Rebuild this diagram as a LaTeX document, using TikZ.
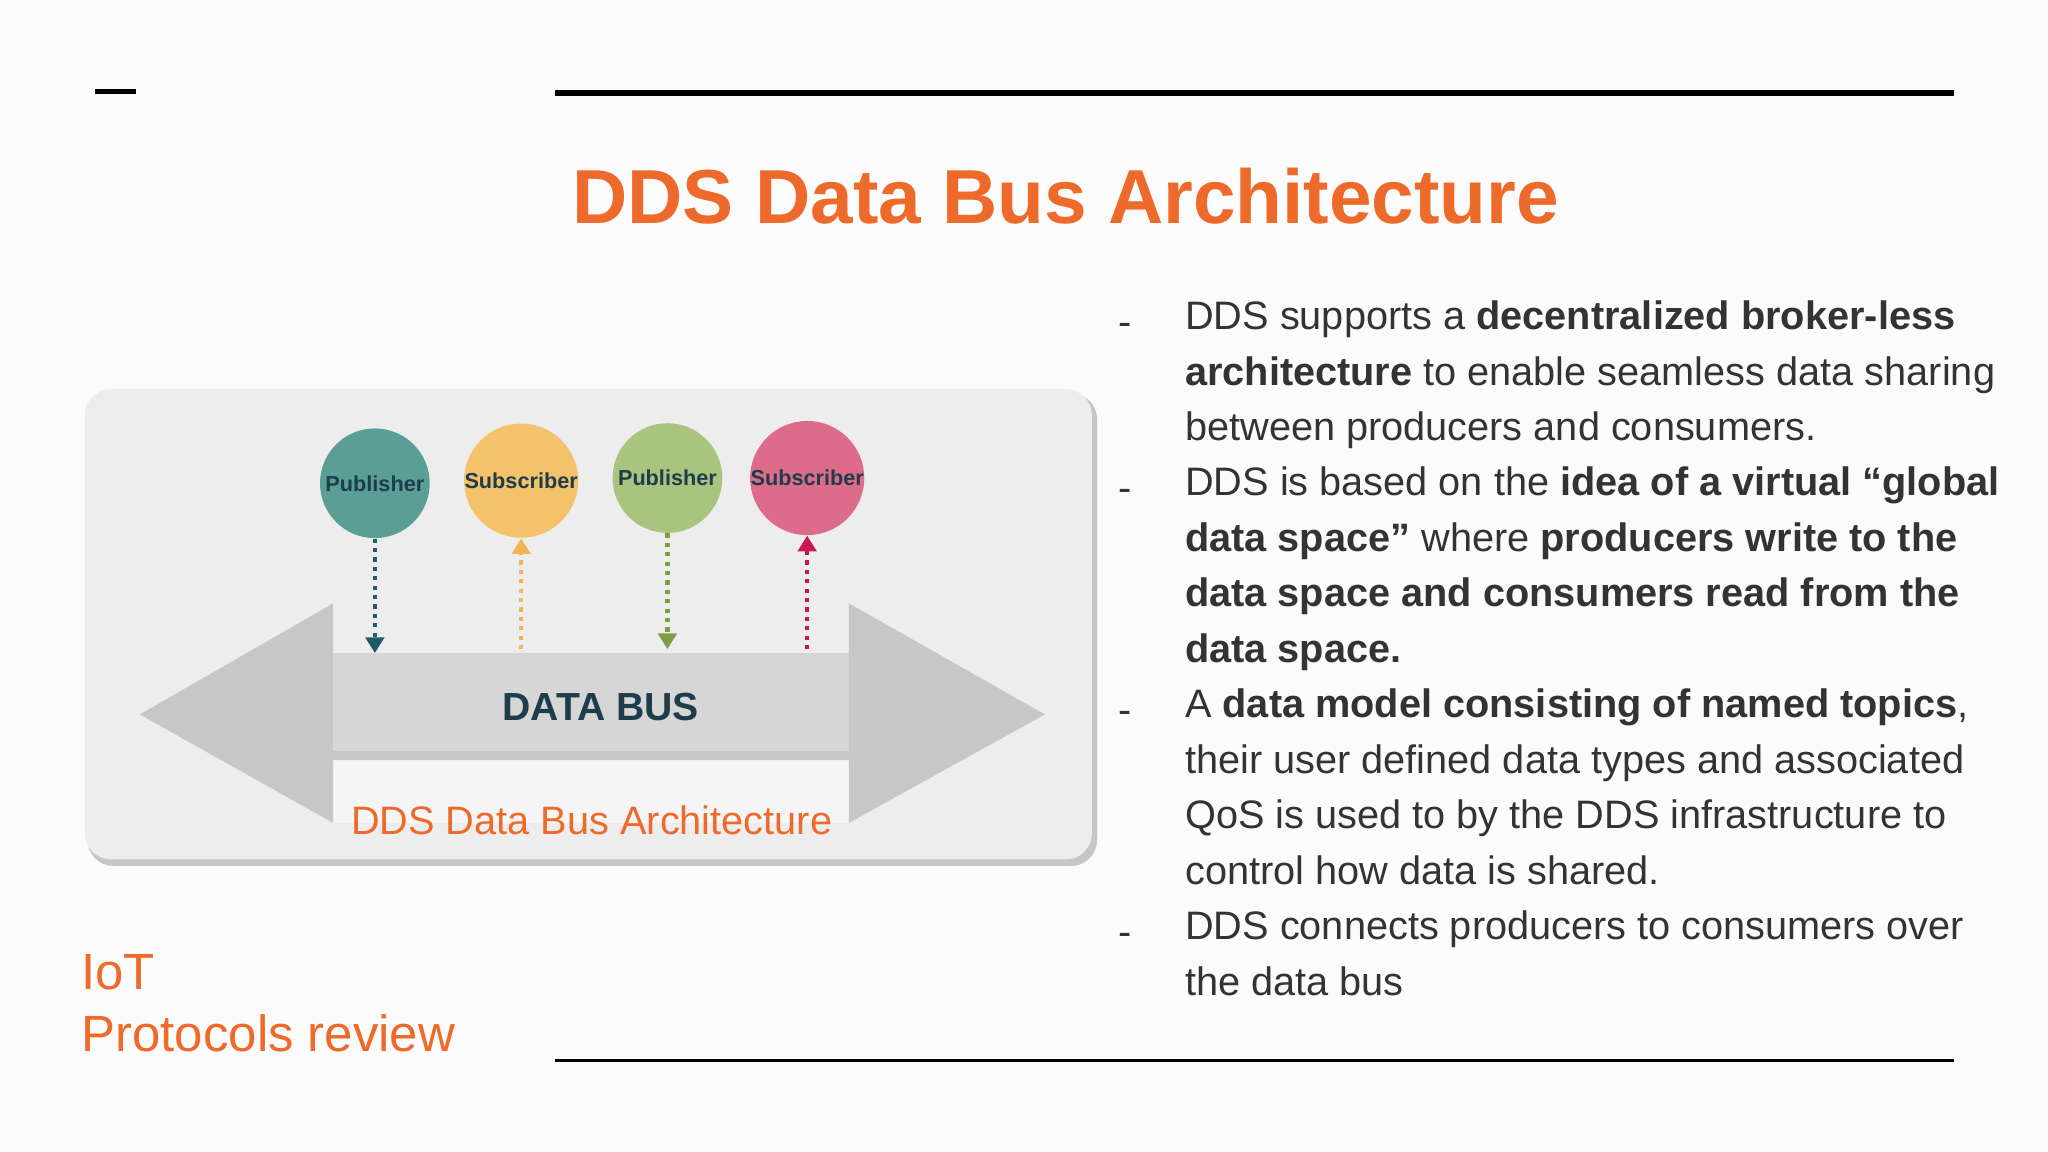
\documentclass[tikz,border=0pt]{standalone}
\usepackage{fontspec}
\setmainfont{Liberation Sans}
\usetikzlibrary{arrows.meta,shadows}
\definecolor{orng}{HTML}{EE6A2A}
\definecolor{txt}{HTML}{333333}
\definecolor{dk}{HTML}{1D3D4A}
\definecolor{cteal}{HTML}{5B9E96}
\definecolor{cyel}{HTML}{F3C26B}
\definecolor{cgrn}{HTML}{A9C47F}
\definecolor{cpink}{HTML}{DD6B8A}
\definecolor{tteal}{HTML}{1F5A66}
\definecolor{tyel}{HTML}{F0B552}
\definecolor{tgrn}{HTML}{7E9E45}
\definecolor{tpink}{HTML}{C8184F}
\tikzset{
 circ/.style={circle,minimum size=42pt,inner sep=0pt,font=\bfseries\fontsize{8.3}{9}\selectfont,text=dk},
 bullet/.style={anchor=north west,align=left,inner sep=0pt,text=txt,font=\fontsize{15.2}{21.25}\selectfont},
 dashm/.style={anchor=west,inner sep=0pt,text=txt,font=\fontsize{15.2}{21.25}\selectfont},
 dotarr/.style={line width=1.6pt,dash pattern=on 1.6pt off 2pt,-{Triangle[length=6pt,width=7pt]}}
}
\begin{document}
\begin{tikzpicture}[x=0.5pt,y=-0.5pt]
\useasboundingbox (0,0) rectangle (1568,882);
\fill[white!97!gray] (0,0) rectangle (1568,882);
% lines
\draw[line width=2pt] (73,70) -- (104,70);
\draw[line width=2.2pt] (425,71) -- (1496,71);
\draw[line width=1.3pt] (425,812) -- (1496,812);
% title
\node[text=orng,font=\bfseries\fontsize{29.3}{34}\selectfont] (title) at (816,150) {DDS Data Bus Architecture};
\node[anchor=west,text=orng,font=\fontsize{19.5}{24}\selectfont,inner sep=0pt] (iot) at (62,744) {IoT};
\node[anchor=west,text=orng,font=\fontsize{19.5}{24}\selectfont,inner sep=0pt] (prot) at (62,791) {Protocols review};
% diagram box
\fill[gray!45,rounded corners=10pt] (67,301) rectangle (840,663);
\fill[black!7,rounded corners=10pt] (65,298) rectangle (836,658);
\fill[white!92!gray] (255,582) rectangle (650,630);
\fill[black!22] (107,547) -- (255,462) -- (255,500) -- (650,500) -- (650,462) -- (800,547) -- (650,630) -- (650,582) -- (255,582) -- (255,630) -- cycle;
\fill[black!16] (255,500) rectangle (650,575);
\node[font=\bfseries\fontsize{15}{18}\selectfont,text=dk] (bus) at (460,541) {DATA BUS};
\node[text=orng,font=\fontsize{15.2}{18}\selectfont] (cap) at (453,628) {DDS Data Bus Architecture};
\node[circ,fill=cteal] (p1) at (287,370) {Publisher};
\node[circ,fill=cyel] (s1) at (399,368) {Subscriber};
\node[circ,fill=cgrn] (p2) at (511,366) {Publisher};
\node[circ,fill=cpink] (s2) at (618,366) {Subscriber};
\coordinate (b1) at (287,500);
\coordinate (b2) at (399,497);
\coordinate (b3) at (511,497);
\coordinate (b4) at (618,497);
\draw[dotarr,tteal] (p1) -- (b1);
\draw[dotarr,tyel] (b2) -- (s1);
\draw[dotarr,tgrn] (p2) -- (b3);
\draw[dotarr,tpink] (b4) -- (s2);
% bullets
\node[dashm] (d1) at (856,252) {-};
\node[bullet] (t1) at (907,230) {DDS supports a \textbf{decentralized broker-less}\\\textbf{architecture} to enable seamless data sharing\\between producers and consumers.};
\node[dashm] (d2) at (856,379) {-};
\node[bullet] (t2) at (907,357) {DDS is based on the \textbf{idea of a virtual “global}\\\textbf{data space”} where \textbf{producers write to the}\\\textbf{data space and consumers read from the}\\\textbf{data space.}};
\node[dashm] (d3) at (856,549) {-};
\node[bullet] (t3) at (907,527) {A \textbf{data model consisting of named topics},\\their user defined data types and associated\\QoS is used to by the DDS infrastructure to\\control how data is shared.};
\node[dashm] (d4) at (856,719) {-};
\node[bullet] (t4) at (907,697) {DDS connects producers to consumers over\\the data bus};
\end{tikzpicture}
\end{document}
